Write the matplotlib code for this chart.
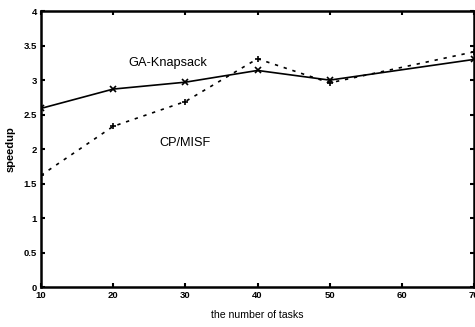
import matplotlib
matplotlib.use('Agg')
import matplotlib.pyplot as plt

tasks = [10, 20, 30, 40, 50, 70]
ga_knapsack = [2.59, 2.87, 2.97, 3.14, 3.00, 3.30]
cp_misf = [1.62, 2.33, 2.69, 3.31, 2.96, 3.41]

xticks = [10, 20, 30, 40, 50, 60, 70]
yticks = [0, 0.5, 1, 1.5, 2, 2.5, 3, 3.5, 4]
ytick_labels = ['0', '0.5', '1', '1.5', '2', '2.5', '3', '3.5', '4']

plt.rcParams['font.family'] = ['Liberation Sans', 'DejaVu Sans']

fig = plt.figure(figsize=(4.75, 3.27), dpi=100)
ax = fig.add_axes([0.0863, 0.122, 0.9117, 0.844])

ax.plot(tasks, ga_knapsack, color='black', linewidth=1.2, marker='x',
        markersize=4, markeredgewidth=1.2)
ax.plot(tasks, cp_misf, color='black', linewidth=1.2, linestyle=(0, (2, 3.5)),
        marker='+', markersize=5, markeredgewidth=1.2)

ax.text(27.6, 3.25, 'GA-Knapsack', fontsize=9.2, ha='center', va='center')
ax.text(30.0, 2.09, 'CP/MISF', fontsize=9.2, ha='center', va='center')

ax.set_xlim(10, 70)
ax.set_ylim(0, 4)
ax.set_xticks(xticks)
ax.set_yticks(yticks)
ax.set_yticklabels(ytick_labels)
ax.tick_params(direction='in', length=3, width=1.5, top=True, right=True,
               labelsize=6.8, pad=3)
for lab in ax.get_xticklabels() + ax.get_yticklabels():
    lab.set_fontweight('bold')

for s in ax.spines.values():
    s.set_linewidth(1.8)

ax.set_xlabel('the number of tasks', fontsize=7.6, labelpad=7)
ax.set_ylabel('speedup', fontsize=8, fontweight='bold', labelpad=6)

fig.savefig('out.png', dpi=100)
